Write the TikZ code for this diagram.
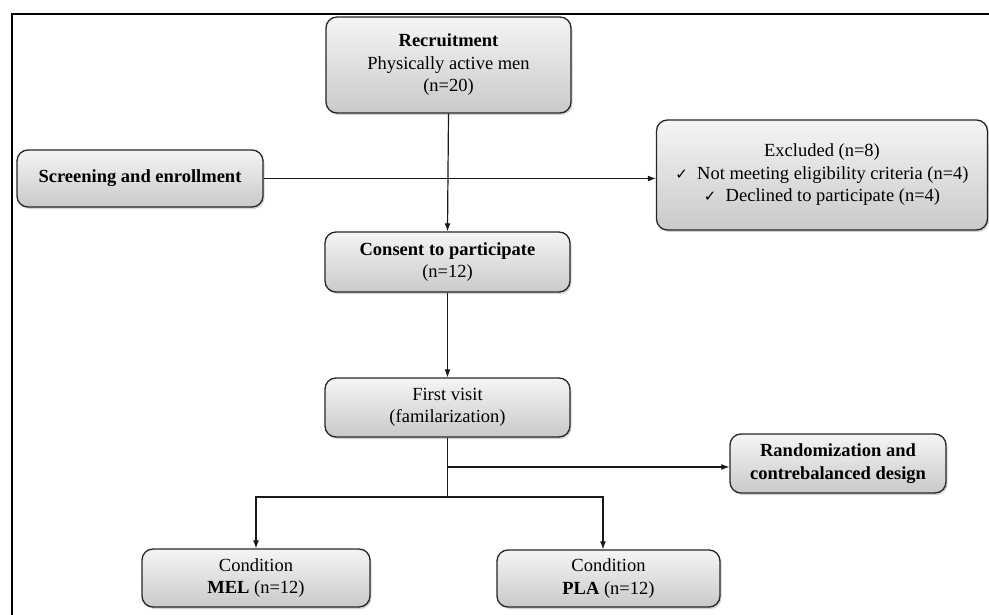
\documentclass[tikz,border=0pt]{standalone}
\usepackage{fontspec}
\setmainfont{Liberation Serif}
\newfontfamily\symfont{DejaVu Sans}
\usetikzlibrary{shadows,arrows.meta}
\tikzset{
  flowbox/.style={draw=black!85, line width=1.3pt, rounded corners=11pt,
    top color=gray!8, bottom color=gray!42, align=center,
    drop shadow={shadow xshift=1.5pt, shadow yshift=-2pt, opacity=0.35},
    font=\fontsize{18.5}{22.5}\selectfont, inner sep=2pt},
  conn/.style={line width=1.2pt, draw=black!90, -{Latex[length=8pt,width=6pt]}},
  plain/.style={line width=1.2pt, draw=black!90},
}
\newcommand{\ck}{{\symfont\fontsize{15}{16}\selectfont ✓}}
\begin{document}
\begin{tikzpicture}[x=1pt,y=-1pt]
\useasboundingbox (0,0) rectangle (989,615);
\draw[line width=2pt] (12,615) -- (12,14) -- (989,14);

\node[flowbox, minimum width=245pt, minimum height=96pt] (rec) at (448.5,65)
  {\textbf{Recruitment}\\Physically active men\\(n=20)};
\node[flowbox, minimum width=246pt, minimum height=57pt] (scr) at (140,178.5)
  {\textbf{Screening and enrollment}};
\node[flowbox, minimum width=331pt, minimum height=110pt] (exc) at (822,175)
  {Excluded (n=8)\\\ck\ \ Not meeting eligibility criteria (n=4)\\\ck\ \ Declined to participate (n=4)};
\node[flowbox, minimum width=245pt, minimum height=60pt] (con) at (447.5,262)
  {\textbf{Consent to participate}\\(n=12)};
\node[flowbox, minimum width=245pt, minimum height=59pt] (fir) at (447.5,407.5)
  {First visit\\(familarization)};
\node[flowbox, minimum width=216pt, minimum height=59pt] (ran) at (838,463.5)
  {\textbf{Randomization and}\\\textbf{contrebalanced design}};
\node[flowbox, minimum width=228pt, minimum height=58pt] (mel) at (256,578)
  {Condition\\\textbf{MEL} (n=12)};
\node[flowbox, minimum width=223pt, minimum height=57pt] (pla) at (608.5,578.5)
  {Condition\\\textbf{PLA} (n=12)};

\coordinate (br) at (447.5,467);
\coordinate (jn) at (447.5,497);
\coordinate (pl) at (603,497);

\draw[conn] (rec.south) -- (con.north);
\draw[conn] (scr.east) -- (scr.east -| exc.west);
\draw[conn] (con.south) -- (fir.north);
\draw[plain] (fir.south) -- (jn);
\draw[conn] (br) -- (br -| ran.west);
\draw[conn] (jn) -| (mel.north);
\draw[conn] (jn) -- (pl) -- (pl |- pla.north);
\end{tikzpicture}
\end{document}
